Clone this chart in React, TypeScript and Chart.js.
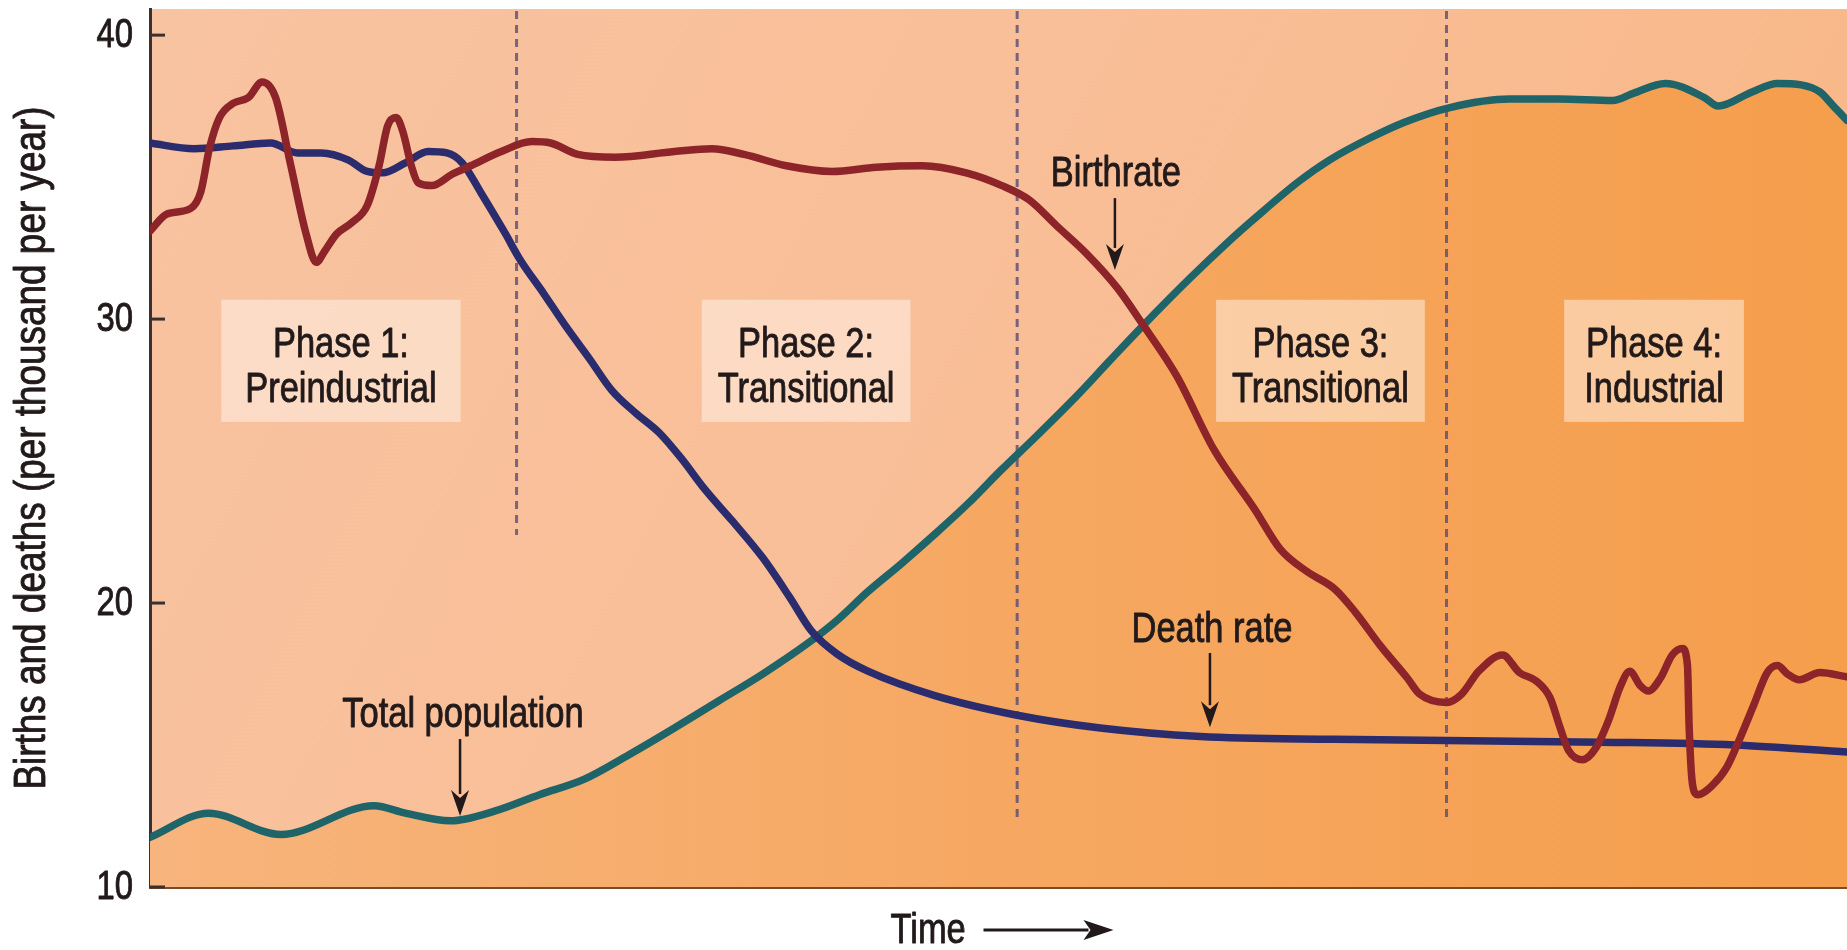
import React, { useEffect, useRef } from "react";
import { Chart, registerables } from "chart.js";

Chart.register(...registerables);

const FONT = "'Liberation Sans', Arial, sans-serif";

// ---- data (time in arbitrary 0..100 units, rates per thousand per year) ----
const birthTime = [0, 1.0, 2.4, 3.0, 3.5, 4.1, 4.9, 5.8, 6.6, 7.4, 8.3, 9.2, 9.8, 10.3, 11.0, 11.9, 12.8, 13.5, 14.0, 14.5, 14.9, 15.4, 15.8, 16.6, 17.8, 18.9, 20.7, 22.5, 23.6, 25.2, 27.4, 30.9, 33.1, 35.0, 37.5, 40.2, 42.8, 45.5, 48.1, 50.2, 51.8, 53.4, 55.2, 57.0, 58.4, 60.5, 62.7, 65.1, 66.6, 68.2, 69.8, 71.0, 72.5, 74.1, 74.8, 76.4, 77.3, 78.3, 79.7, 80.7, 81.7, 82.5, 83.1, 83.6, 84.4, 85.2, 86.0, 86.6, 87.2, 87.8, 88.3, 89.0, 89.7, 90.3, 90.6, 90.7, 90.9, 91.2, 92.1, 92.9, 93.7, 94.5, 95.3, 95.9, 96.5, 97.2, 98.4, 100];
const birthRate = [33.1, 33.7, 33.9, 34.5, 36.0, 37.1, 37.6, 37.8, 38.35, 37.8, 35.4, 33.0, 32.0, 32.4, 33.0, 33.4, 34.0, 35.4, 36.8, 37.1, 36.6, 35.4, 34.8, 34.7, 35.1, 35.4, 35.9, 36.25, 36.2, 35.8, 35.7, 35.9, 36.0, 35.8, 35.4, 35.2, 35.35, 35.4, 35.15, 34.7, 34.2, 33.3, 32.3, 31.1, 29.9, 28.0, 25.4, 23.3, 21.9, 21.1, 20.5, 19.7, 18.5, 17.35, 16.8, 16.5, 16.8, 17.6, 18.17, 17.55, 17.25, 16.67, 15.6, 14.8, 14.48, 14.9, 15.95, 17.0, 17.6, 17.1, 16.9, 17.35, 18.17, 18.4, 17.8, 15.6, 13.6, 13.25, 13.6, 14.2, 15.25, 16.4, 17.55, 17.8, 17.5, 17.3, 17.55, 17.4];

const deathTime = [0, 2.6, 4.9, 7.1, 8.7, 10.1, 11.7, 12.8, 13.7, 15.05, 16.4, 17.5, 18.4, 19.5, 20.9, 21.8, 23.2, 24.5, 25.9, 27.2, 28.6, 30.0, 31.3, 32.7, 34.3, 36.1, 37.7, 39.0, 40.5, 42.3, 46.2, 51.1, 56.0, 61.9, 69.8, 77.7, 85.5, 93.4, 100];
const deathRate = [36.2, 36.0, 36.1, 36.2, 35.85, 35.85, 35.6, 35.2, 35.15, 35.5, 35.9, 35.85, 35.5, 34.45, 33.05, 32.1, 30.9, 29.75, 28.6, 27.5, 26.7, 26.0, 25.1, 24.0, 22.9, 21.6, 20.2, 19.0, 18.2, 17.6, 16.75, 16.05, 15.6, 15.3, 15.2, 15.15, 15.1, 15.0, 14.75];

const popTime = [0, 3.45, 7.7, 13.2, 15.05, 17.7, 20.3, 22.95, 25.6, 28.2, 30.9, 33.5, 36.1, 38.8, 40.5, 42.3, 44.3, 46.2, 48.2, 50.1, 52.1, 54.7, 56.5, 58.4, 61.3, 63.5, 65.2, 67.7, 69.5, 71.8, 74.0, 76.6, 80.1, 83.0, 86.2, 87.4, 89.3, 91.6, 92.4, 94.4, 95.9, 97.3, 98.4, 99.2, 100];
const popValue = [11.75, 12.6, 11.85, 12.86, 12.6, 12.33, 12.67, 13.25, 13.8, 14.65, 15.6, 16.55, 17.5, 18.6, 19.4, 20.4, 21.4, 22.4, 23.5, 24.65, 25.8, 27.35, 28.5, 29.7, 31.45, 32.7, 33.6, 34.85, 35.6, 36.35, 36.95, 37.45, 37.75, 37.75, 37.7, 37.95, 38.3, 37.8, 37.5, 38.0, 38.3, 38.25, 38.0, 37.5, 37.0];

const yTicks = [10, 20, 30, 40];
const yTitle = "Births and deaths (per thousand per year)";
const xTitle = "Time";
const phaseBoundaries = [21.6, 51.1, 76.4];
const boundaryBottoms = [22.4, 12.25, 12.25];
const phaseTitles = ["Phase 1:", "Phase 2:", "Phase 3:", "Phase 4:"];
const phaseNames = ["Preindustrial", "Transitional", "Transitional", "Industrial"];
const phaseCenters = [11.25, 38.66, 68.97, 88.63];

const seriesLabels = ["Birthrate", "Death rate", "Total population"];

// ---- layout / style ----
const NARROW = 0.82; // horizontal condensing of text (Helvetica Narrow look)
const PHASE_LINE1_Y = 28.67;
const PHASE_LINE2_Y = 27.08;
const PHASE_BOX_TOP = 30.68;
const PHASE_BOX_BOTTOM = 26.38;
const PHASE_BOX_PAD = [24, 16, 16, 20];
const annotations = [
  { text: seriesLabels[0], x: 56.92, y: 34.69, ax: 56.86, from: 34.26, to: 31.73 },
  { text: seriesLabels[1], x: 62.58, y: 18.63, ax: 62.46, from: 18.24, to: 15.63 },
  { text: seriesLabels[2], x: 18.44, y: 15.63, ax: 18.27, from: 15.21, to: 12.5 },
];
const TEXT_COLOR = "#221a1a";

function pts(xs: number[], ys: number[]) {
  return xs.map((x, i) => ({ x, y: ys[i] }));
}

function narrowText(
  ctx: CanvasRenderingContext2D,
  text: string,
  x: number,
  y: number,
  size: number,
  align: CanvasTextAlign,
  baseline: CanvasTextBaseline = "alphabetic",
  rotate = 0
) {
  ctx.save();
  ctx.translate(x, y);
  if (rotate) ctx.rotate(rotate);
  ctx.scale(NARROW, 1);
  ctx.font = `${size}px ${FONT}`;
  ctx.textAlign = align;
  ctx.textBaseline = baseline;
  ctx.fillStyle = TEXT_COLOR;
  ctx.strokeStyle = TEXT_COLOR;
  ctx.lineWidth = 0.9;
  ctx.lineJoin = "round";
  ctx.fillText(text, 0, 0);
  ctx.strokeText(text, 0, 0);
  ctx.restore();
}

function narrowWidth(ctx: CanvasRenderingContext2D, text: string, size: number) {
  ctx.save();
  ctx.font = `${size}px ${FONT}`;
  const w = ctx.measureText(text).width * NARROW;
  ctx.restore();
  return w;
}

function arrowDown(ctx: CanvasRenderingContext2D, x: number, y0: number, y1: number, head = 26, half = 9) {
  ctx.beginPath();
  ctx.moveTo(x, y0);
  ctx.lineTo(x, y1 - head + 4);
  ctx.stroke();
  ctx.beginPath();
  ctx.moveTo(x, y1);
  ctx.lineTo(x - half, y1 - head);
  ctx.lineTo(x, y1 - head + 8);
  ctx.lineTo(x + half, y1 - head);
  ctx.closePath();
  ctx.fill();
}

const overlayPlugin = {
  id: "overlay",
  beforeDraw(chart: any) {
    const { ctx, chartArea: a } = chart;
    ctx.save();
    const g = ctx.createLinearGradient(a.left, a.top, a.right, a.bottom);
    g.addColorStop(0, "#f8c3a1");
    g.addColorStop(0.5, "#f9be96");
    g.addColorStop(1, "#f8b582");
    ctx.fillStyle = g;
    ctx.fillRect(a.left, a.top, a.right - a.left, a.bottom - a.top);
    ctx.restore();
  },
  beforeDatasetsDraw(chart: any) {
    const { ctx, chartArea: a, scales } = chart;
    const xs = scales.x, ys = scales.y;
    ctx.save();
    ctx.strokeStyle = "rgba(90,75,118,0.8)";
    ctx.lineWidth = 3;
    ctx.setLineDash([8, 6]);
    phaseBoundaries.forEach((b, i) => {
      const px = xs.getPixelForValue(b);
      ctx.beginPath();
      ctx.moveTo(px, a.top + 2);
      ctx.lineTo(px, ys.getPixelForValue(boundaryBottoms[i]));
      ctx.stroke();
    });
    ctx.setLineDash([]);
    phaseCenters.forEach((c, i) => {
      const cx = xs.getPixelForValue(c);
      const w = Math.max(narrowWidth(ctx, phaseTitles[i], 42), narrowWidth(ctx, phaseNames[i], 42)) + 2 * PHASE_BOX_PAD[i];
      const top = ys.getPixelForValue(PHASE_BOX_TOP);
      const bot = ys.getPixelForValue(PHASE_BOX_BOTTOM);
      ctx.fillStyle = "rgba(255,246,238,0.5)";
      ctx.fillRect(cx - w / 2, top, w, bot - top);
      narrowText(ctx, phaseTitles[i], cx, ys.getPixelForValue(PHASE_LINE1_Y), 42, "center");
      narrowText(ctx, phaseNames[i], cx, ys.getPixelForValue(PHASE_LINE2_Y), 42, "center");
    });
    ctx.restore();
  },
  afterDatasetsDraw(chart: any) {
    const { ctx, chartArea: a, scales } = chart;
    const xs = scales.x, ys = scales.y;
    ctx.save();
    // inward tick marks and tick labels from the y scale
    ctx.strokeStyle = "#3a3030";
    ctx.lineWidth = 3;
    ys.ticks.forEach((t: any) => {
      const py = ys.getPixelForValue(t.value);
      ctx.beginPath();
      ctx.moveTo(a.left, py);
      ctx.lineTo(a.left + 15, py);
      ctx.stroke();
      narrowText(ctx, String(t.value), a.left - 17, py + 1, 40, "right", "middle");
    });
    // y title
    narrowText(ctx, yTitle, 33, (a.top + a.bottom) / 2, 45, "center", "middle", -Math.PI / 2);
    // annotations
    ctx.strokeStyle = TEXT_COLOR;
    ctx.fillStyle = TEXT_COLOR;
    annotations.forEach((an) => {
      narrowText(ctx, an.text, xs.getPixelForValue(an.x), ys.getPixelForValue(an.y), 42, "center");
      ctx.lineWidth = 2.5;
      arrowDown(ctx, xs.getPixelForValue(an.ax), ys.getPixelForValue(an.from), ys.getPixelForValue(an.to));
    });
    // Time label and arrow under the x axis
    const cx = (a.left + a.right) / 2;
    narrowText(ctx, xTitle, cx - 108, a.bottom + 56, 42, "left");
    ctx.lineWidth = 3;
    const ay = a.bottom + 43;
    ctx.beginPath();
    ctx.moveTo(cx - 15, ay);
    ctx.lineTo(cx + 90, ay);
    ctx.stroke();
    ctx.beginPath();
    ctx.moveTo(cx + 115, ay);
    ctx.lineTo(cx + 85, ay - 10);
    ctx.lineTo(cx + 92, ay);
    ctx.lineTo(cx + 85, ay + 10);
    ctx.closePath();
    ctx.fill();
    ctx.restore();
  },
};

export default function App() {
  const ref = useRef<HTMLCanvasElement | null>(null);
  useEffect(() => {
    if (!ref.current) return;
    const popFill = (c: any) => {
      const a = c.chart.chartArea;
      if (!a) return "#f6a85e";
      const g = c.chart.ctx.createLinearGradient(a.left, 0, a.right, 0);
      g.addColorStop(0, "#f7b47c");
      g.addColorStop(0.5, "#f6a862");
      g.addColorStop(1, "#f59e4c");
      return g;
    };
    const line = (label: string, data: any[], color: string) => ({
      label,
      data,
      borderColor: color,
      borderWidth: 7.5,
      pointRadius: 0,
      cubicInterpolationMode: "monotone",
      borderCapStyle: "round",
      borderJoinStyle: "round",
      fill: false,
    });
    const chart = new Chart(ref.current, {
      type: "line",
      data: {
        datasets: [
          line(seriesLabels[0], pts(birthTime, birthRate), "#8c2429"),
          line(seriesLabels[1], pts(deathTime, deathRate), "#2b2c6e"),
          { ...line(seriesLabels[2], pts(popTime, popValue), "#1e6468"), fill: "start", backgroundColor: popFill },
        ],
      },
      options: {
        animation: false,
        responsive: true,
        maintainAspectRatio: false,
        layout: { padding: { top: 9, left: 0, right: 0, bottom: 0 } },
        plugins: {
          legend: { display: false },
          tooltip: { enabled: false },
          filler: { drawTime: "beforeDatasetsDraw" },
        },
        scales: {
          x: {
            type: "linear",
            min: 0,
            max: 100,
            ticks: { display: false },
            grid: { display: false, drawTicks: false },
            border: { display: true, color: "#7a4a2c", width: 3 },
            afterFit: (s: any) => {
              s.height = 63;
              s.paddingLeft = 0;
              s.paddingRight = 0;
            },
          },
          y: {
            type: "linear",
            min: 10,
            max: 40.92,
            afterBuildTicks: (s: any) => {
              s.ticks = yTicks.map((v) => ({ value: v }));
            },
            ticks: { display: false },
            grid: { display: false, drawTicks: false },
            border: { display: true, color: "#3a3030", width: 3 },
            afterFit: (s: any) => {
              s.width = 150;
              s.paddingTop = 0;
              s.paddingBottom = 0;
            },
          },
        },
      },
      plugins: [overlayPlugin],
    } as any);
    return () => chart.destroy();
  }, []);
  return (
    <div style={{ position: "absolute", left: 0, top: 0, width: 1847, height: 950, background: "#ffffff" }}>
      <canvas ref={ref} />
    </div>
  );
}
